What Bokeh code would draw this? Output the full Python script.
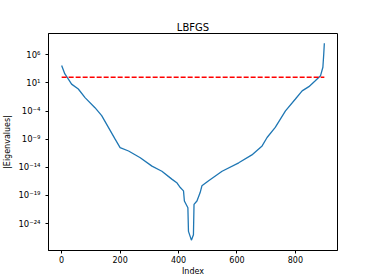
from bokeh.plotting import figure
from bokeh.models import Range1d, FixedTicker, CustomJSTickFormatter, ColumnDataSource
from bokeh.embed import file_html
from bokeh.resources import INLINE

# Eigenvalue curve
index = [0, 11, 23, 34, 57, 80, 114, 137, 160, 183, 200, 229, 269, 309, 343,
         377, 394, 406, 417, 420, 432, 434, 444, 451, 453, 463, 474, 480, 503,
         549, 606, 651, 686, 703, 731, 766, 800, 823, 846, 868, 886, 894, 897, 899]
eigen_abs = [1.26e4, 4.0e2, 5.0e1, 6.3, 0.85, 2.5e-2, 4.0e-4, 1.6e-5, 1.26e-7,
             1.0e-9, 3.2e-11, 7.9e-12, 5.0e-13, 1.6e-14, 2.0e-15, 7.9e-17, 1.8e-17,
             2.5e-18, 6.3e-19, 1.0e-20, 6.3e-22, 4.0e-26, 1.1e-27, 1.0e-26, 2.5e-21,
             1.0e-20, 3.2e-19, 5.0e-18, 4.0e-17, 2.0e-15, 6.3e-14, 1.6e-12, 6.3e-11,
             2.0e-9, 1.26e-7, 1.1e-4, 1.4e-2, 0.4, 2.2, 25.0, 200.0, 6.3e3, 1.6e6, 1.2e8]

# threshold line
thresh_x = [0, 899]
thresh_y = [100.0, 100.0]

x_ticks = [0, 200, 400, 600, 800]
y_ticks = [1e6, 1e1, 1e-4, 1e-9, 1e-14, 1e-19, 1e-24]

FONT = "DejaVu Sans"

p = figure(width=374, height=280, output_backend="svg", toolbar_location=None,
           y_axis_type="log", title="LBFGS",
           x_range=Range1d(-45, 944), y_range=Range1d(10 ** -28.8, 10 ** 9.8),
           min_border_left=47, min_border_right=37, min_border_top=33, min_border_bottom=30)

src = ColumnDataSource(dict(x=index, y=eigen_abs))
p.line("x", "y", source=src, line_color="#1f77b4", line_width=1.3)
p.line(thresh_x, thresh_y, line_color="#ff0000", line_width=1.5, line_dash="5 2")

p.title.align = "center"
p.title.text_font = FONT
p.title.text_font_size = "10px"
p.title.text_font_style = "normal"
p.title.text_color = "black"
p.title.standoff = 2

p.xgrid.visible = False
p.ygrid.visible = False
p.outline_line_color = "black"
p.outline_line_width = 1
p.background_fill_color = "white"
p.border_fill_color = "white"

p.xaxis.ticker = FixedTicker(ticks=x_ticks)
p.yaxis.ticker = FixedTicker(ticks=y_ticks, minor_ticks=[])
p.yaxis.formatter = CustomJSTickFormatter(code="""
const sup = {"-":"\u207b","0":"\u2070","1":"\u00b9","2":"\u00b2","3":"\u00b3","4":"\u2074","5":"\u2075","6":"\u2076","7":"\u2077","8":"\u2078","9":"\u2079"};
const e = Math.round(Math.log10(tick));
return "10" + String(e).split("").map(c => sup[c]).join("");
""")
p.xaxis.axis_label = "Index"
p.yaxis.axis_label = "|Eigenvalues|"
for ax in (p.xaxis, p.yaxis):
    ax.major_tick_out = 3
    ax.major_tick_in = 0
    ax.minor_tick_line_color = None
    ax.major_tick_line_color = "black"
    ax.axis_line_color = "black"
    ax.major_label_text_font = FONT
    ax.major_label_text_font_size = "8px"
    ax.major_label_text_color = "black"
    ax.axis_label_text_font = FONT
    ax.axis_label_text_font_size = "8px"
    ax.axis_label_text_font_style = "normal"
    ax.axis_label_text_color = "black"
p.xaxis.major_label_standoff = 2
p.xaxis.axis_label_standoff = 1
p.yaxis.major_label_standoff = 5
p.yaxis.axis_label_standoff = 3
p.yaxis.major_label_text_font_size = "8.5px"

open("out.html", "w").write(file_html(p, INLINE))
